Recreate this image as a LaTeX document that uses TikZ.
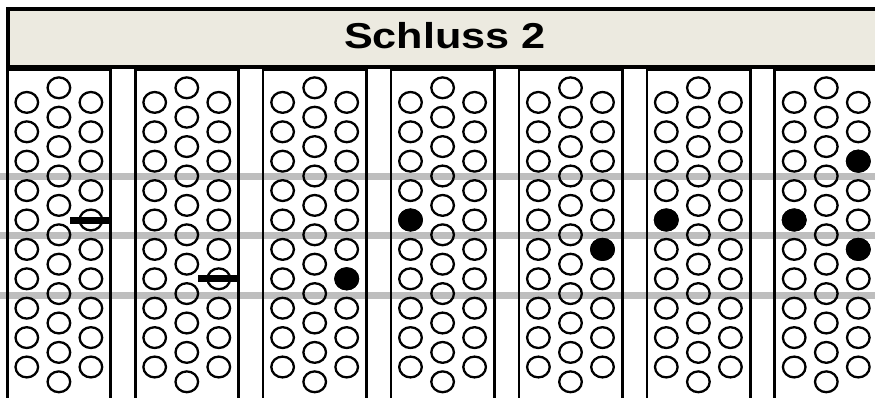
\documentclass[tikz,border=0pt]{standalone}
\usepackage{fontspec}
\setmainfont{Liberation Sans}
\usetikzlibrary{shapes.geometric}
\definecolor{titlecream}{RGB}{236,234,224}
\definecolor{guidegray}{RGB}{190,190,190}
\tikzset{
  hole/.style={ellipse, draw=black, line width=2.3pt, minimum width=22.6pt, minimum height=20.8pt, inner sep=0pt, outer sep=0pt},
  pressed/.style={hole, fill=black},
  colbox/.style={rectangle, draw=black, line width=2.6pt, minimum width=103.4pt, minimum height=360pt, inner sep=0pt},
  guideline/.style={draw=guidegray, line width=7pt},
  barmark/.style={draw=black, line width=7pt},
  titlebox/.style={rectangle, draw=black, fill=titlecream, line width=4pt, inner sep=0pt},
  titlefont/.style={font=\fontsize{36}{40}\selectfont\bfseries}
}
\begin{document}
\begin{tikzpicture}[x=1pt, y=-1pt]
\useasboundingbox (0,0) rectangle (875,398);
\clip (0,0) rectangle (875,398);
\fill[white] (0,0) rectangle (875,398);
% grey guide lines
\foreach \g/\yy in {1/176.5, 2/235.5, 3/295} {
  \coordinate (gl\g a) at (-5,\yy);
  \coordinate (gl\g b) at (880,\yy);
  \draw[guideline] (gl\g a) -- (gl\g b);
}
% columns with buttons
\foreach \i in {0,...,6} {
  \pgfmathsetmacro\bx{7.3+127.9*\i}
  \node[colbox] (box\i) at (\bx+51.7, 249.3) {};
  \foreach \k in {0,...,9} {
    \node[hole] (h\i-l\k) at (\bx+19.5, 102.4+29.4*\k) {};
    \node[hole] (h\i-r\k) at (\bx+83.6, 102.4+29.4*\k) {};
  }
  \foreach \k in {0,...,10} {
    \node[hole] (h\i-m\k) at (\bx+51.6, 87.8+29.4*\k) {};
  }
}
% pressed buttons
\node[pressed] (p3) at (h2-r6) {};
\node[pressed] (p4) at (h3-l4) {};
\node[pressed] (p5) at (h4-r5) {};
\node[pressed] (p6) at (h5-l4) {};
\node[pressed] (p7a) at (h6-l4) {};
\node[pressed] (p7b) at (h6-r2) {};
\node[pressed] (p7c) at (h6-r5) {};
% bars
\draw[barmark] ([xshift=-20.6pt]h0-r4.center) -- (h0-r4.center -| box0.east);
\draw[barmark] ([xshift=-20.6pt]h1-r6.center) -- (h1-r6.center -| box1.east);
% title
\node[titlebox, minimum width=877.5pt, minimum height=58.8pt] (title) at (446.25,38.1) {};
\node[titlefont, anchor=base, inner sep=0pt] (titletext) at (445,48.3) {\scalebox{1.2}[1]{Schluss 2}};
\end{tikzpicture}
\end{document}
